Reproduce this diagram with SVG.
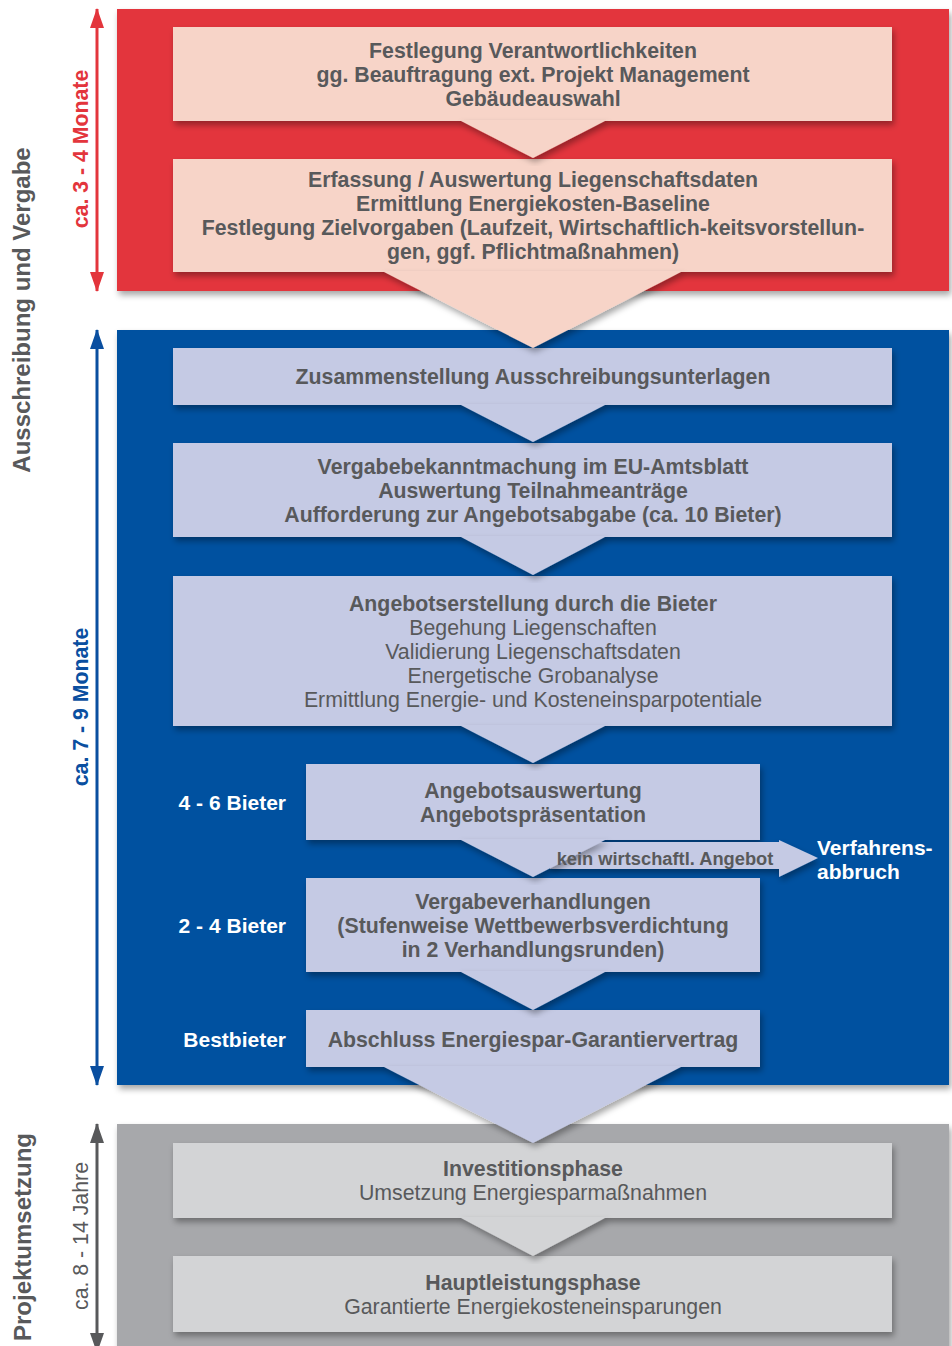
<svg xmlns="http://www.w3.org/2000/svg" width="952" height="1346" viewBox="0 0 952 1346">
<defs>
<filter id="sh" x="-10%" y="-10%" width="120%" height="130%">
<feDropShadow dx="2" dy="4" stdDeviation="3" flood-color="#000" flood-opacity="0.35"/>
</filter>
<marker id="ahB" viewBox="0 0 20 14" refX="19" refY="7" markerWidth="20" markerHeight="14" markerUnits="userSpaceOnUse" orient="auto"><path d="M0,0 L20,7 L0,14 Z" fill="#0A4FA0"/></marker>
<marker id="ahR" viewBox="0 0 20 14" refX="19" refY="7" markerWidth="20" markerHeight="14" markerUnits="userSpaceOnUse" orient="auto"><path d="M0,0 L20,7 L0,14 Z" fill="#E3353C"/></marker>
<marker id="ahG" viewBox="0 0 20 14" refX="19" refY="7" markerWidth="20" markerHeight="14" markerUnits="userSpaceOnUse" orient="auto"><path d="M0,0 L20,7 L0,14 Z" fill="#58595B"/></marker>
</defs>
<style>
text{font-family:"Liberation Sans",Arial,sans-serif;}
.t{font-size:21.3px;fill:#58595B;text-anchor:middle;}
.b{font-weight:bold;}
.w{font-size:21px;fill:#fff;font-weight:bold;}
.side{font-size:24px;fill:#58595B;font-weight:bold;text-anchor:middle;}
.dur{font-size:21.3px;text-anchor:middle;}
.pR{fill:#E3353C;}
.pB{fill:#0351A0;}
.pG{fill:#A7A8AB;}
.bxR{fill:#F7D4C8;}
.bxB{fill:#C5CAE4;}
.bxG{fill:#D3D4D6;}
</style>
<rect width="952" height="1346" fill="#fff"/>

<g id="panel-red"><rect class="pR" x="117" y="9" width="832" height="282" filter="url(#sh)"/></g>
<g id="panel-blue"><rect class="pB" x="117" y="330" width="832" height="755" filter="url(#sh)"/></g>
<g id="panel-gray"><rect class="pG" x="117" y="1124" width="832" height="240" filter="url(#sh)"/></g>

<g id="labels-left">
<text class="side" transform="translate(30,310) rotate(-90)">Ausschreibung und Vergabe</text>
<text class="side" transform="translate(31,1237) rotate(-90)">Projektumsetzung</text>
<text class="dur b" fill="#E3353C" transform="translate(88,149) rotate(-90)">ca. 3 - 4 Monate</text>
<text class="dur b" fill="#0A4FA0" transform="translate(88,707) rotate(-90)">ca. 7 - 9 Monate</text>
<text class="dur" fill="#58595B" font-size="23" transform="translate(88,1236) rotate(-90)">ca. 8 - 14 Jahre</text>
</g>

<g id="duration-arrows" stroke-width="3" fill="none">
<line x1="97" y1="150" x2="97" y2="9" stroke="#E3353C" marker-end="url(#ahR)"/>
<line x1="97" y1="150" x2="97" y2="291" stroke="#E3353C" marker-end="url(#ahR)"/>
<line x1="97" y1="700" x2="97" y2="330" stroke="#0A4FA0" marker-end="url(#ahB)"/>
<line x1="97" y1="700" x2="97" y2="1085" stroke="#0A4FA0" marker-end="url(#ahB)"/>
<line x1="97" y1="1240" x2="97" y2="1124" stroke="#58595B" marker-end="url(#ahG)"/>
<line x1="97" y1="1240" x2="97" y2="1352" stroke="#58595B" marker-end="url(#ahG)"/>
</g>

<g id="n1"><rect class="bxR" x="173" y="27" width="719" height="94" filter="url(#sh)"/>
<text class="t b" x="533" y="58">Festlegung Verantwortlichkeiten</text>
<text class="t b" x="533" y="82">gg. Beauftragung ext. Projekt Management</text>
<text class="t b" x="533" y="106">Gebäudeauswahl</text></g>

<g id="n2"><rect class="bxR" x="173" y="159" width="719" height="113" filter="url(#sh)"/>
<text class="t b" x="533" y="187">Erfassung / Auswertung Liegenschaftsdaten</text>
<text class="t b" x="533" y="211">Ermittlung Energiekosten-Baseline</text>
<text class="t b" x="533" y="235">Festlegung Zielvorgaben (Laufzeit, Wirtschaftlich-keitsvorstellun-</text>
<text class="t b" x="533" y="259">gen, ggf. Pflichtmaßnahmen)</text></g>

<g id="n3"><rect class="bxB" x="173" y="348" width="719" height="57" filter="url(#sh)"/>
<text class="t b" x="533" y="384">Zusammenstellung Ausschreibungsunterlagen</text></g>

<g id="n4"><rect class="bxB" x="173" y="443" width="719" height="94" filter="url(#sh)"/>
<text class="t b" x="533" y="474">Vergabebekanntmachung im EU-Amtsblatt</text>
<text class="t b" x="533" y="498">Auswertung Teilnahmeanträge</text>
<text class="t b" x="533" y="522">Aufforderung zur Angebotsabgabe (ca. 10 Bieter)</text></g>

<g id="n5"><rect class="bxB" x="173" y="576" width="719" height="150" filter="url(#sh)"/>
<text class="t b" x="533" y="611">Angebotserstellung durch die Bieter</text>
<text class="t" x="533" y="635">Begehung Liegenschaften</text>
<text class="t" x="533" y="659">Validierung Liegenschaftsdaten</text>
<text class="t" x="533" y="683">Energetische Grobanalyse</text>
<text class="t" x="533" y="707">Ermittlung Energie- und Kosteneinsparpotentiale</text></g>

<g id="n6"><rect class="bxB" x="306" y="764" width="454" height="76" filter="url(#sh)"/>
<text class="t b" x="533" y="798">Angebotsauswertung</text>
<text class="t b" x="533" y="822">Angebotspräsentation</text>
<text class="w" x="286" y="810" text-anchor="end">4 - 6 Bieter</text></g>

<g id="n7"><rect class="bxB" x="306" y="878" width="454" height="94" filter="url(#sh)"/>
<text class="t b" x="533" y="909">Vergabeverhandlungen</text>
<text class="t b" x="533" y="933">(Stufenweise Wettbewerbsverdichtung</text>
<text class="t b" x="533" y="957">in 2 Verhandlungsrunden)</text>
<text class="w" x="286" y="933" text-anchor="end">2 - 4 Bieter</text></g>

<g id="n8"><rect class="bxB" x="306" y="1010" width="454" height="57" filter="url(#sh)"/>
<text class="t b" x="533" y="1047">Abschluss Energiespar-Garantiervertrag</text>
<text class="w" x="286" y="1047" text-anchor="end">Bestbieter</text></g>

<g id="n9"><text class="w" font-size="22.7" x="817" y="855">Verfahrens-</text>
<text class="w" font-size="22.7" x="817" y="879">abbruch</text></g>

<g id="n10"><rect class="bxG" x="173" y="1143" width="719" height="75" filter="url(#sh)"/>
<text class="t b" x="533" y="1176">Investitionsphase</text>
<text class="t" x="533" y="1200">Umsetzung Energiesparmaßnahmen</text></g>

<g id="n11"><rect class="bxG" x="173" y="1256" width="719" height="76" filter="url(#sh)"/>
<text class="t b" x="533" y="1290">Hauptleistungsphase</text>
<text class="t" x="533" y="1314">Garantierte Energiekosteneinsparungen</text></g>

<g id="connectors">
<polygon class="bxR" points="459,120 607,120 533,158" filter="url(#sh)"/>
<polygon class="bxR" points="382,271 683,271 533,348" filter="url(#sh)"/>
<polygon class="bxB" points="459,404 607,404 533,442" filter="url(#sh)"/>
<polygon class="bxB" points="459,536 607,536 533,575" filter="url(#sh)"/>
<polygon class="bxB" points="459,725 607,725 533,763" filter="url(#sh)"/>
<polygon class="bxB" points="550,842 779,842 779,840 818,858 779,877 779,869 550,869" filter="url(#sh)"/>
<polygon class="bxB" points="459,839 607,839 533,877" filter="url(#sh)"/>
<polygon class="bxB" points="459,971 607,971 533,1010" filter="url(#sh)"/>
<polygon class="bxB" points="382,1066 683,1066 533,1143" filter="url(#sh)"/>
<polygon class="bxG" points="459,1217 607,1217 533,1256" filter="url(#sh)"/>
<text x="665" y="865" font-size="18.3" font-weight="bold" fill="#58595B" text-anchor="middle">kein wirtschaftl. Angebot</text>
</g>
</svg>
